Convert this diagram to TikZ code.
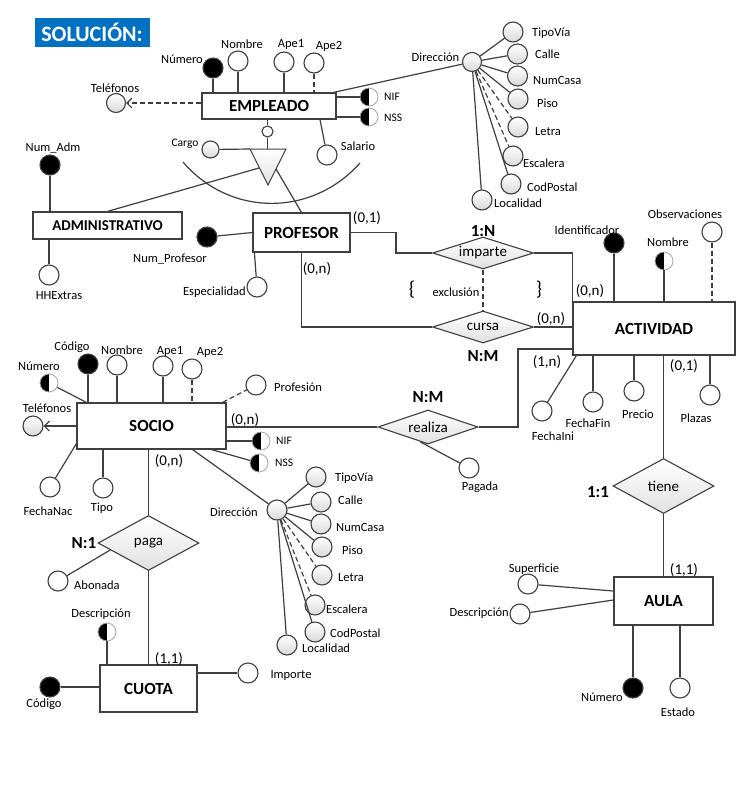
\documentclass[tikz,border=0pt]{standalone}
\usepackage{fontspec}
\setmainfont{Carlito}
\usetikzlibrary{shapes.geometric,arrows.meta,calc}
\definecolor{titleblue}{HTML}{0070C0}
\definecolor{lncol}{HTML}{3F3F3F}
\begin{document}
\begin{tikzpicture}[x=1pt,y=-1pt,
  cn/.style={draw=lncol,line width=1.2pt},
  dsh/.style={cn,dash pattern=on 5pt off 3pt},
  ent/.style={rectangle,draw=lncol,line width=1.2pt,fill=white,inner sep=0pt,font=\bfseries\fontsize{17}{17}\selectfont},
  attr/.style={circle,draw=lncol,line width=1.1pt,fill=white,minimum size=20pt,inner sep=0pt},
  sattr/.style={attr,top color=white,bottom color=black!15},
  kattr/.style={attr,fill=black},
  hattr/.style={circle,draw=black!35,line width=0.8pt,fill=white,minimum size=18pt,inner sep=0pt,
     path picture={\fill[black] (path picture bounding box.north west) rectangle (path picture bounding box.south);}},
  rel/.style={diamond,draw=lncol,line width=1.1pt,top color=white,bottom color=black!12,inner sep=0pt,shape aspect=3,font=\fontsize{15}{15}\selectfont},
  lb/.style={inner sep=0pt,font=\fontsize{12.5}{12.5}\selectfont},
  sl/.style={inner sep=0pt,font=\fontsize{11.5}{11.5}\selectfont},
  cd/.style={inner sep=0pt,font=\fontsize{15}{15}\selectfont},
  bcd/.style={inner sep=0pt,font=\bfseries\fontsize{17}{17}\selectfont},
  brc/.style={inner sep=0pt,font=\fontsize{20}{20}\selectfont},
  tip/.style={-{Straight Barb[length=5pt,width=10pt]}},
]
\fill[white] (0,0) rectangle (751,785);
\path[use as bounding box] (0,0) rectangle (751,785);

% title
\node[fill=titleblue,text=white,font=\bfseries\fontsize{22}{22}\selectfont,minimum width=115pt,minimum height=29pt,inner sep=0pt] (title) at (92,32.5) {SOLUCIÓN:};

% ---------- entities ----------
\node[ent,minimum width=134pt,minimum height=26pt] (emp) at (269,106) {EMPLEADO};
\node[ent,font=\bfseries\fontsize{15}{15}\selectfont,minimum width=149pt,minimum height=27pt] (adm) at (107.5,225.5) {ADMINISTRATIVO};
\node[ent,minimum width=97pt,minimum height=39pt] (prof) at (301.5,232.5) {PROFESOR};
\node[ent,minimum width=162pt,minimum height=53pt] (act) at (654,328.5) {ACTIVIDAD};
\node[ent,minimum width=149pt,minimum height=46pt] (soc) at (151.5,426) {SOCIO};
\node[ent,minimum width=97pt,minimum height=47pt] (cuo) at (148.5,688.5) {CUOTA};
\node[ent,minimum width=99pt,minimum height=48pt] (aula) at (663.5,601) {AULA};

% ---------- relationships ----------
\node[rel,minimum width=101pt,minimum height=32pt] (imp) at (483,253) {imparte};
\node[rel,minimum width=101pt,minimum height=32pt] (cur) at (483,327) {cursa};
\node[rel,minimum width=100pt,minimum height=34pt] (rea) at (428,427) {realiza};
\node[rel,minimum width=101pt,minimum height=55pt] (paga) at (148.5,543) {paga};
\node[rel,minimum width=101pt,minimum height=55pt] (tiene) at (663.5,486) {tiene};

% ---------- EMPLEADO attributes ----------
\node[kattr] (eNum) at (213,68) {};
\node[lb,anchor=east] (eNumL) at (203,59) {Número};
\node[attr] (eNom) at (238,61) {};
\node[lb] (eNomL) at (242,44) {Nombre};
\node[attr] (eApe1) at (284,62) {};
\node[lb] (eApe1L) at (291,44) {Ape1};
\node[attr] (eApe2) at (314,63) {};
\node[lb] (eApe2L) at (329,46) {Ape2};
\node[sattr,minimum size=19pt] (eTel) at (116,103) {};
\node[lb] (eTelL) at (115,88) {Teléfonos};
\node[hattr] (eNIF) at (369,97) {};
\node[sl,anchor=west] (eNIFL) at (384,97) {NIF};
\node[hattr] (eNSS) at (369,117) {};
\node[sl,anchor=west] (eNSSL) at (384,118) {NSS};
\node[attr] (eSal) at (327,155) {};
\node[lb] (eSalL) at (358,146) {Salario};
\node[sattr,minimum size=19pt] (eDir) at (472,62) {};
\node[lb] (eDirL) at (435.5,57) {Dirección};
\node[sattr] (eTV) at (513,32) {};
\node[sattr] (eCa) at (517.5,54) {};
\node[sattr] (eNC) at (517.5,76) {};
\node[sattr] (ePi) at (518,99) {};
\node[sattr] (eLe) at (518,127) {};
\node[sattr] (eEs) at (513,156) {};
\node[sattr] (eCP) at (511,184) {};
\node[sattr] (eLo) at (482,200) {};
\node[lb,anchor=west] (eTVL) at (532,33) {TipoVía};
\node[lb,anchor=west] (eCaL) at (535,54) {Calle};
\node[lb,anchor=west] (eNCL) at (533,80) {NumCasa};
\node[lb,anchor=west] (ePiL) at (537,103) {Piso};
\node[lb,anchor=west] (eLeL) at (535,132) {Letra};
\node[lb,anchor=west] (eEsL) at (523,163) {Escalera};
\node[lb,anchor=west] (eCPL) at (527,187) {CodPostal};
\node[lb,anchor=west] (eLoL) at (494,203) {Localidad};

% specialization
\node[attr,minimum size=11pt] (spc) at (267.5,131.5) {};
\coordinate (triL) at (250,149);
\coordinate (triR) at (286,149);
\coordinate (triB) at (268,185);
\coordinate (tL) at (259,168);
\coordinate (tR) at (276,169);
\node[sattr,minimum size=17pt] (cargo) at (210.5,149.5) {};
\node[sl] (cargoL) at (185,144) {Cargo};

% ADMINISTRATIVO attributes
\node[kattr] (aNum) at (50,165) {};
\node[lb] (aNumL) at (53,148) {Num\_Adm};
\node[attr] (aHH) at (49,275) {};
\node[lb] (aHHL) at (59,296) {HHExtras};

% PROFESOR attributes
\node[kattr] (pNum) at (207,237) {};
\node[lb] (pNumL) at (170,259) {Num\_Profesor};
\node[attr] (pEsp) at (257,287) {};
\node[lb,anchor=east] (pEspL) at (246,292) {Especialidad};

% ACTIVIDAD attributes
\node[kattr] (aId) at (614,243) {};
\node[lb] (aIdL) at (587,230) {Identificador};
\node[hattr] (aNom) at (664,261) {};
\node[lb] (aNomL) at (668,242) {Nombre};
\node[attr] (aObs) at (712,232) {};
\node[lb] (aObsL) at (685,214) {Observaciones};
\node[attr] (aFI) at (542,411) {};
\node[lb] (aFIL) at (553,436) {FechaIni};
\node[attr] (aFF) at (593,402) {};
\node[lb] (aFFL) at (588,423) {FechaFin};
\node[attr] (aPre) at (634,391) {};
\node[lb] (aPreL) at (638,414) {Precio};
\node[attr] (aPla) at (710,395) {};
\node[lb] (aPlaL) at (696,418) {Plazas};

% AULA attributes
\node[attr] (uSup) at (528,584) {};
\node[lb] (uSupL) at (534,569) {Superficie};
\node[attr] (uDes) at (520,614) {};
\node[lb,anchor=east] (uDesL) at (509,613) {Descripción};
\node[kattr] (uNum) at (633,688) {};
\node[lb,anchor=east] (uNumL) at (623,697) {Número};
\node[attr] (uEst) at (680,688) {};
\node[lb] (uEstL) at (678,712) {Estado};

% SOCIO attributes
\node[kattr] (sCod) at (88,364) {};
\node[lb] (sCodL) at (72,347) {Código};
\node[hattr] (sNum) at (49,383) {};
\node[lb] (sNumL) at (39,366) {Número};
\node[attr] (sNom) at (117,365) {};
\node[lb] (sNomL) at (122,350) {Nombre};
\node[attr] (sApe1) at (163,366) {};
\node[lb] (sApe1L) at (170,351) {Ape1};
\node[attr] (sApe2) at (192,369) {};
\node[lb] (sApe2L) at (210,352) {Ape2};
\node[attr] (sProf) at (256,385) {};
\node[lb,anchor=west] (sProfL) at (274,387) {Profesión};
\node[sattr] (sTel) at (33,426) {};
\node[lb] (sTelL) at (47,408) {Teléfonos};
\node[hattr] (sNIF) at (261,441) {};
\node[sl,anchor=west] (sNIFL) at (276,441) {NIF};
\node[hattr] (sNSS) at (259,463) {};
\node[sl,anchor=west] (sNSSL) at (275,463) {NSS};
\node[attr] (sFN) at (50,487) {};
\node[lb] (sFNL) at (48,511) {FechaNac};
\node[attr] (sTipo) at (103,488) {};
\node[lb] (sTipoL) at (102,508) {Tipo};
\node[sattr] (sDir) at (277,510) {};
\node[lb] (sDirL) at (234,512) {Dirección};
\node[sattr] (sTV) at (316,477) {};
\node[sattr] (sCa) at (321,502) {};
\node[sattr] (sNC) at (321,524) {};
\node[sattr] (sPi) at (322,547) {};
\node[sattr] (sLe) at (322,575) {};
\node[sattr] (sEs) at (315,605) {};
\node[sattr] (sCP) at (315,632) {};
\node[sattr] (sLo) at (287,645) {};
\node[lb,anchor=west] (sTVL) at (335,478) {TipoVía};
\node[lb,anchor=west] (sCaL) at (338,500) {Calle};
\node[lb,anchor=west] (sNCL) at (336,527) {NumCasa};
\node[lb,anchor=west] (sPiL) at (342,550) {Piso};
\node[lb,anchor=west] (sLeL) at (338,578) {Letra};
\node[lb,anchor=west] (sEsL) at (326,609) {Escalera};
\node[lb,anchor=west] (sCPL) at (330,633) {CodPostal};
\node[lb,anchor=west] (sLoL) at (302,648) {Localidad};

% realiza attribute
\node[attr] (rPag) at (469,468) {};
\node[lb] (rPagL) at (480,487) {Pagada};

% paga attribute
\node[attr] (pAbo) at (58,581) {};
\node[lb,anchor=west] (pAboL) at (74,585) {Abonada};

% CUOTA attributes
\node[hattr] (cDes) at (107,632) {};
\node[lb] (cDesL) at (101,614) {Descripción};
\node[kattr] (cCod) at (50,687) {};
\node[lb] (cCodL) at (44,704) {Código};
\node[attr] (cImp) at (248,673) {};
\node[lb] (cImpL) at (291,675) {Importe};

% cardinalities and labels
\node[cd] (c01) at (367,218) {(0,1)};
\node[cd] (c0n1) at (317,269) {(0,n)};
\node[bcd] (impC) at (483,231) {1:N};
\node[bcd] (curC) at (483,356) {N:M};
\node[brc] (lbr) at (412,290) {\{};
\node[brc] (rbr) at (539,290) {\}};
\node[lb] (excl) at (456,292) {exclusión};
\node[cd] (c0n2) at (551,319) {(0,n)};
\node[cd] (c0n3) at (590,291) {(0,n)};
\node[cd] (c1n) at (547,362) {(1,n)};
\node[cd] (c01b) at (684,366) {(0,1)};
\node[bcd] (reaC) at (428,397) {N:M};
\node[cd] (c0n4) at (245,420) {(0,n)};
\node[cd] (c0n5) at (169,461) {(0,n)};
\node[bcd] (pagaC) at (84,543) {N:1};
\node[cd] (c11a) at (169,659) {(1,1)};
\node[bcd] (tieneC) at (598,492) {1:1};
\node[cd] (c11b) at (684,570) {(1,1)};

% ---------- connectors ----------
% EMPLEADO
\draw[cn] (eNum) -- (eNum |- emp.north);
\draw[cn] (eNom) -- (eNom |- emp.north);
\draw[cn] (eApe1) -- (eApe1 |- emp.north);
\draw[dsh] (eApe2) -- (eApe2 |- emp.north);
\draw[dsh,tip] (emp.west |- eTel) -- (eTel);
\draw[cn] (emp.east |- eNIF) -- (eNIF);
\draw[cn] (emp.east |- eNSS) -- (eNSS);
\draw[cn] ([xshift=51pt]emp.south) -- (eSal);
\draw[cn] ([xshift=-3pt]emp.north east) -- (eDir);
\draw[cn] (eDir) -- (eTV);
\draw[cn] (eDir) -- (eCa);
\draw[cn] (eDir) -- (eNC);
\draw[cn] (eDir) -- (ePi);
\draw[dsh] (eDir) -- (eLe);
\draw[dsh] (eDir) -- (eEs);
\draw[cn] (eDir) -- (eCP);
\draw[cn] (eDir) -- (eLo);

% specialization
\draw[cn] (emp.south -| spc) -- (spc);
\draw[cn] (spc) -- (spc |- triL);
\draw[cn] (cargo) -- (triL);
\draw[cn,line width=1pt,top color=white,bottom color=black!12] (triL) -- (triR) -- (triB) -- cycle;
\draw[cn] (183,162) .. controls (230,217) and (312,217) .. (360,163);
\draw[cn] (tL) -- (adm.north);
\draw[cn] (tR) -- (prof.north);

% ADMINISTRATIVO
\draw[cn] (aNum) -- (aNum |- adm.north);
\draw[cn] (aHH |- adm.south) -- (aHH);

% PROFESOR
\draw[cn] (pNum) -- (prof.west);
\draw[cn] ([xshift=2pt]prof.south west) -- (pEsp);
\coordinate (pi) at (396,233);
\draw[cn] (prof.east) -| (pi |- imp.west) -- (imp.west);
\draw[cn] (imp.east) -| (act.north west);
\draw[cn] (prof.south) |- (cur.west);
\draw[cn] (cur.east) -- (act.west |- cur.east);
\draw[dsh] (imp.south) -- (cur.north);

% ACTIVIDAD
\draw[cn] (aId) -- (aId |- act.north);
\draw[cn] (aNom) -- (aNom |- act.north);
\draw[dsh] (aObs) -- (aObs |- act.north);
\draw[cn] ([xshift=4pt]act.south west) -- (aFI);
\draw[cn] (aFF |- act.south) -- (aFF);
\draw[cn] (aPre |- act.south) -- (aPre);
\draw[cn] (aPla |- act.south) -- (aPla);
\draw[cn] (tiene.north) -- (tiene.north |- act.south);
\draw[cn] (tiene.south) -- (tiene.south |- aula.north);

% AULA
\draw[cn] (uSup) -- ([yshift=10pt]aula.west);
\draw[cn] (uDes) -- ([yshift=1pt]aula.west);
\draw[cn] (uNum |- aula.south) -- (uNum);
\draw[cn] (uEst |- aula.south) -- (uEst);

% SOCIO
\draw[cn] (sCod) -- (sCod |- soc.north);
\draw[cn] (sNum) -- ([xshift=10pt]soc.north west);
\draw[cn] (sNom) -- (sNom |- soc.north);
\draw[cn] (sApe1) -- (sApe1 |- soc.north);
\draw[dsh] (sApe2) -- (sApe2 |- soc.north);
\draw[dsh] ([xshift=-4pt]soc.north east) -- (sProf);
\draw[cn,tip] (soc.west) -- (sTel);
\draw[cn] (soc.east |- sNIF) -- (sNIF);
\draw[cn] ([xshift=-15pt]soc.south east) -- (sNSS);
\draw[cn] ([yshift=6pt]soc.south west) -- (sFN);
\draw[cn] (sTipo |- soc.south) -- (sTipo);
\draw[cn] ([xshift=-34pt]soc.south east) -- (sDir);
\draw[cn] (sDir) -- (sTV);
\draw[cn] (sDir) -- (sCa);
\draw[cn] (sDir) -- (sNC);
\draw[cn] (sDir) -- (sPi);
\draw[dsh] (sDir) -- (sLe);
\draw[dsh] (sDir) -- (sEs);
\draw[cn] (sDir) -- (sCP);
\draw[cn] (sDir) -- (sLo);

% realiza
\coordinate (rk) at (518,349);
\draw[cn] (soc.east |- rea.west) -- (rea.west);
\draw[cn] (rea.east) -| (rk) -- (act.west |- rk);
\draw[cn] ($(rea.south)!0.15!(rea.west)$) -- (rPag);

% paga
\draw[cn] (paga.north) -- (paga.north |- soc.south);
\draw[cn] (paga.south) -- (paga.south |- cuo.north);
\draw[cn] ($(paga.west)!0.25!(paga.south)$) -- (pAbo);

% CUOTA
\draw[cn] (cDes) -- (cDes |- cuo.north);
\draw[cn] (cCod) -- (cuo.west |- cCod);
\draw[cn] (cuo.east |- cImp) -- (cImp);
\end{tikzpicture}
\end{document}
